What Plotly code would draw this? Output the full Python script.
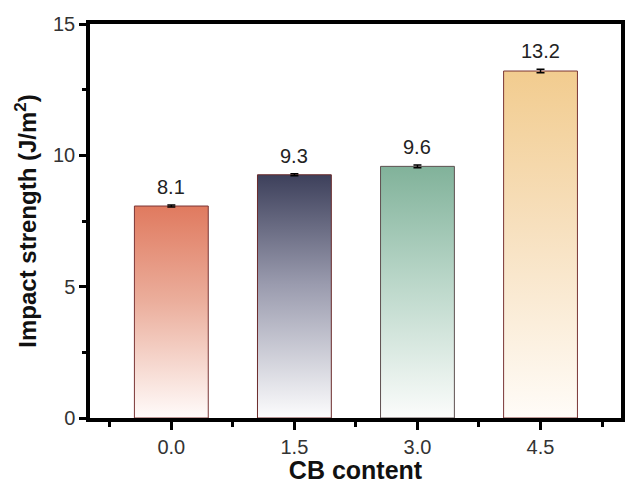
import plotly.graph_objects as go

categories = ["0.0", "1.5", "3.0", "4.5"]
values = [8.07, 9.26, 9.58, 13.21]
errors = [0.04, 0.04, 0.05, 0.07]
labels = ["8.1", "9.3", "9.6", "13.2"]
top_colors = ["#E07A5F", "#3D405B", "#81B29A", "#F2CC8F"]
mid_colors = ["#EBAE9C", "#9A9BAE", "#B9D6C8", "#F7E0BE"]
bottom_colors = ["#FFFBFA", "#FCFCFD", "#FBFCFB", "#FFFCF8"]
edge_colors = ["#7A3535", "#6A2A2A", "#5E5050", "#7A3535"]

BAR_W = 0.6
font = "Liberation Sans, Arial, sans-serif"
fig = go.Figure()

for i, (v, c_top, c_mid, c_bot, ec) in enumerate(zip(values, top_colors, mid_colors, bottom_colors, edge_colors)):
    x0, x1 = i - BAR_W / 2, i + BAR_W / 2
    fig.add_trace(go.Scatter(
        x=[x0, x1, x1, x0, x0],
        y=[0, 0, v, v, 0],
        mode="lines",
        fill="toself",
        fillgradient=dict(type="vertical", start=0, stop=v,
                          colorscale=[[0, c_bot], [0.55, c_mid], [1, c_top]]),
        line=dict(color=ec, width=1),
        hoverinfo="skip",
        showlegend=False,
    ))

xs = list(range(len(categories)))
fig.add_trace(go.Scatter(
    x=xs, y=values, mode="markers",
    marker=dict(size=1, color="rgba(0,0,0,0)"),
    error_y=dict(type="data", array=errors, visible=True, color="black", thickness=1.5, width=4),
    showlegend=False, hoverinfo="skip",
))

for x, v, e, t in zip(xs, values, errors, labels):
    fig.add_annotation(
        x=x, y=v + e, text=t, showarrow=False,
        yanchor="bottom", yshift=5,
        font=dict(family=font, size=20, color="#222"),
    )

fig.update_layout(
    width=628, height=484,
    margin=dict(l=90, r=3, t=24, b=66),
    plot_bgcolor="white", paper_bgcolor="white",
    font=dict(family=font, color="black"),
    xaxis=dict(
        range=[-0.661, 3.654],
        tickvals=xs, ticktext=categories,
        ticks="outside", ticklen=8, tickwidth=3, tickcolor="black",
        showline=True, linewidth=3.5, linecolor="black", mirror=True,
        showgrid=False, zeroline=False,
        tickfont=dict(size=20, color="#333"),
        title=dict(text="<b>CB content</b>", font=dict(size=25, color="#111"), standoff=3),
        minor=dict(tickvals=[-0.5, 0.5, 1.5, 2.5, 3.5], ticks="outside",
                   ticklen=5, tickwidth=3, tickcolor="black", showgrid=False),
    ),
    yaxis=dict(
        range=[0, 15],
        tickvals=[0, 5, 10, 15],
        ticks="outside", ticklen=7, tickwidth=3, tickcolor="black",
        showline=True, linewidth=3.5, linecolor="black", mirror=True,
        showgrid=False, zeroline=False,
        tickfont=dict(size=20, color="#333"),
        title=dict(text="<b>Impact strength (J/m<sup>2</sup>)</b>", font=dict(size=24, color="#111"), standoff=11),
        minor=dict(tickvals=[2.5, 7.5, 12.5], ticks="outside",
                   ticklen=4, tickwidth=3, tickcolor="black", showgrid=False),
    ),
)

fig.write_html("out.html")
